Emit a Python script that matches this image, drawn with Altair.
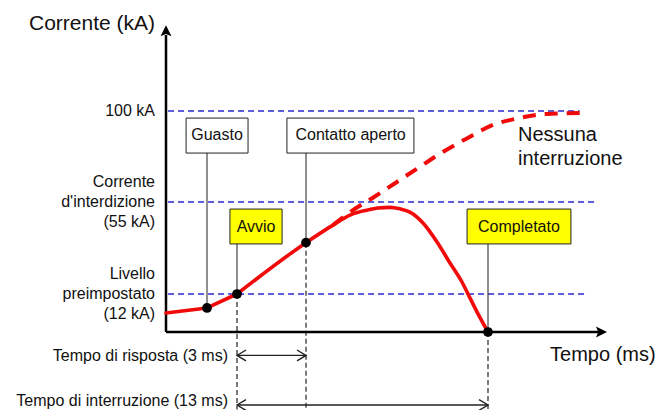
import altair as alt
import pandas as pd

# ---------------- values ----------------
# schematic time axis (ms) and current axis (kA)
event_names = ["Guasto", "Avvio", "Contatto aperto", "Completato"]
event_t = [2, 4, 7, 17]
event_i = [7.6, 12, 36, 0]

levels = [12, 55, 100]
level_start_t = [0.1, 0.1, 0.1]
level_end_t = [22.4, 22.9, 22.0]
level_labels = ["Livello\npreimpostato\n(12 kA)", "Corrente\nd'interdizione\n(55 kA)", "100 kA"]

# interrupted current (solid): straight rise until the trip starts, then curved
solid_t = [0, 2, 4, 7, 8.48, 9.42, 10.35, 10.96, 11.62, 12.16, 12.71, 13.43, 14.20, 14.91, 15.57, 15.90, 16.40, 17]
solid_i = [6.0, 7.6, 12, 36, 44.2, 48.9, 51.2, 52.2, 52.5, 51.8, 50.3, 45.2, 36.3, 26.5, 17.6, 12, 6.3, 0]
trip_start_t = 4

# uninterrupted current (dashed)
dashed_t = [8.48, 9.42, 10.74, 12.16, 13.15, 14.42, 15.79, 17.27, 18.69, 20.17, 22.19]
dashed_i = [44.2, 50.3, 57.5, 65.9, 71.8, 79.2, 86.2, 93.1, 96.5, 98.5, 99.0]

box_labels = ["Guasto", "Contatto aperto", "Avvio", "Completato"]
box_kind = ["evento", "evento", "azione", "azione"]
box_anchor_t = [2, 7, 4, 17]
box_anchor_i = [7.6, 36, 12, 0]
box_t0 = [0.98, 6.17, 3.53, 15.85]
box_t1 = [4.48, 12.93, 5.96, 21.53]
box_i0 = [79.2, 79.2, 35.4, 35.4]
box_i1 = [96.5, 96.5, 51.7, 51.7]
box_tc = [2.67, 9.45, 4.83, 18.69]
box_ic = [87.9, 87.9, 43.5, 43.5]

drop_t = [4, 7, 17]
drop_i = [12, 36, 0]
drop_bottom = -24.5

span_labels = ["Tempo di risposta (3 ms)", "Tempo di interruzione (13 ms)"]
span_t0 = [4, 4]
span_t1 = [7, 17]
span_i = [-7.4, -23.1]
span_text_i = [-7.6, -21.8]

no_break_label = "Nessuna\ninterruzione"
no_break_t = 18.64
no_break_i = 82.2

y_title = "Corrente (kA)"
y_title_i = 135.5
x_title = "Tempo (ms)"
x_title_t = 20.39
x_title_i = -7.3

axis_y_top = 131
axis_y_tip = 135
axis_x_end = 23.2
axis_x_tip = 23.5

# piecewise schematic scales
x_domain = [-8.1, 0, 2, 4, 7, 17, 23.5, 26]
x_range = [-8, 158, 199, 229, 298, 480, 599, 656]
y_domain = [-25, 0, 12, 55, 100, 135.5]
y_range = [403, 324, 286, 194, 103, 16]

# ---------------- chart ----------------
xs = alt.Scale(domain=x_domain, range=x_range, nice=False, zero=False)
ys = alt.Scale(domain=y_domain, range=y_range, nice=False, zero=False)


def X(f):
    return alt.X(f, type="quantitative", scale=xs, axis=None)


def Y(f):
    return alt.Y(f, type="quantitative", scale=ys, axis=None)


FONT = "Liberation Sans"
RED = "#f00a0a"
BLUE = "#2a2ad2"
INK = "#111111"

df_levels = pd.DataFrame({"t0": level_start_t, "t1": level_end_t, "i": levels, "label": level_labels})
df_levels["n"] = [s.count("\n") + 1 for s in level_labels]
df_levels["t"] = 0
df_solid = pd.DataFrame({"t": solid_t, "i": solid_i})
df_dashed = pd.DataFrame({"t": dashed_t, "i": dashed_i})
df_events = pd.DataFrame({"t": event_t, "i": event_i, "name": event_names})
df_boxes = pd.DataFrame({
    "label": box_labels, "kind": box_kind,
    "at": box_anchor_t, "ai": box_anchor_i,
    "t0": box_t0, "t1": box_t1, "i0": box_i0, "i1": box_i1,
    "tc": box_tc, "ic": box_ic,
})
df_drop = pd.DataFrame({"t": drop_t, "i0": drop_i, "i1": [drop_bottom] * len(drop_t)})
df_span = pd.DataFrame({"label": span_labels, "t0": span_t0, "t1": span_t1, "i": span_i, "ti": span_text_i})
df_yaxis = pd.DataFrame({"t": [0], "i0": [0], "i1": [axis_y_top], "tip": [axis_y_tip]})
df_xaxis = pd.DataFrame({"t0": [0], "t1": [axis_x_end], "i": [0], "tip": [axis_x_tip]})
df_ytitle = pd.DataFrame({"t": [0], "i": [y_title_i], "label": [y_title]})
df_xtitle = pd.DataFrame({"t": [x_title_t], "i": [x_title_i], "label": [x_title]})
df_nobreak = pd.DataFrame({"t": [no_break_t], "i": [no_break_i], "label": [no_break_label]})

blue_lines = alt.Chart(df_levels).mark_rule(color=BLUE, strokeWidth=1.3, strokeDash=[6, 4]).encode(
    x=X("t0"), x2="t1", y=Y("i"))

connectors = alt.Chart(df_boxes).mark_rule(color="#333333", strokeWidth=1.1).encode(
    x=X("at"), y=Y("i0"), y2="ai")

drops = alt.Chart(df_drop).mark_rule(color="#333333", strokeWidth=1.3, strokeDash=[5, 3]).encode(
    x=X("t"), y=Y("i0"), y2="i1")

span_lines = alt.Chart(df_span).mark_rule(color="#222222", strokeWidth=1.3).encode(
    x=X("t0"), x2="t1", y=Y("i"))
span_left = alt.Chart(df_span).mark_point(
    shape="M1,-0.6L0,0L1,0.6", filled=False, size=324, strokeWidth=1.4, color="#222222", opacity=1
).encode(x=X("t0"), y=Y("i"))
span_right = alt.Chart(df_span).mark_point(
    shape="M-1,-0.6L0,0L-1,0.6", filled=False, size=324, strokeWidth=1.4, color="#222222", opacity=1
).encode(x=X("t1"), y=Y("i"))
span_text = alt.Chart(df_span).mark_text(
    align="right", baseline="middle", dx=-9, font=FONT, fontSize=16, color=INK
).encode(x=X("t0"), y=Y("ti"), text="label")

yaxis = alt.Chart(df_yaxis).mark_rule(color="black", strokeWidth=2.5).encode(
    x=X("t"), y=Y("i0"), y2="i1")
yaxis_head = alt.Chart(df_yaxis).mark_point(
    shape="M0,0L0.5,1L0,0.8L-0.5,1Z", filled=True, size=484, color="black", opacity=1
).encode(x=X("t"), y=Y("tip"))
xaxis = alt.Chart(df_xaxis).mark_rule(color="black", strokeWidth=2.5).encode(
    x=X("t0"), x2="t1", y=Y("i"))
xaxis_head = alt.Chart(df_xaxis).mark_point(
    shape="M0,0L-1,-0.5L-0.8,0L-1,0.5Z", filled=True, size=484, color="black", opacity=1
).encode(x=X("tip"), y=Y("i"))

solid_base = alt.Chart(df_solid)
solid_rise = solid_base.transform_filter(f"datum.t <= {trip_start_t}").mark_line(
    color=RED, strokeWidth=3.6, strokeCap="round", strokeJoin="round"
).encode(x=X("t"), y=Y("i"))
solid_curve = solid_base.transform_filter(f"datum.t >= {trip_start_t}").mark_line(
    color=RED, strokeWidth=3.6, strokeCap="round", interpolate="monotone"
).encode(x=X("t"), y=Y("i"))
dashed = alt.Chart(df_dashed).mark_line(
    color=RED, strokeWidth=4, strokeDash=[13, 9], interpolate="monotone"
).encode(x=X("t"), y=Y("i"))

dots = alt.Chart(df_events).mark_circle(size=95, color="black", opacity=1).encode(x=X("t"), y=Y("i"))

boxes = alt.Chart(df_boxes).mark_rect(stroke="#222222", strokeWidth=1).encode(
    x=X("t0"), x2="t1", y=Y("i0"), y2="i1",
    color=alt.Color("kind:N", scale=alt.Scale(domain=["evento", "azione"], range=["#ffffff", "#ffff00"]),
                    legend=None),
)
box_text = alt.Chart(df_boxes).mark_text(
    align="center", baseline="middle", font=FONT, fontSize=16, color=INK
).encode(x=X("tc"), y=Y("ic"), text="label")

level_base = alt.Chart(df_levels)
level_text_multi = level_base.transform_filter("datum.n > 1").mark_text(
    align="right", baseline="middle", dx=-11, dy=-20, font=FONT, fontSize=16, color=INK,
    lineBreak="\n", lineHeight=20
).encode(x=X("t"), y=Y("i"), text="label")
level_text_single = level_base.transform_filter("datum.n == 1").mark_text(
    align="right", baseline="middle", dx=-11, font=FONT, fontSize=16, color=INK
).encode(x=X("t"), y=Y("i"), text="label")

ytitle = alt.Chart(df_ytitle).mark_text(
    align="right", baseline="middle", dx=-11, font=FONT, fontSize=21, color=INK
).encode(x=X("t"), y=Y("i"), text="label")
xtitle = alt.Chart(df_xtitle).mark_text(
    align="left", baseline="middle", font=FONT, fontSize=20, color=INK
).encode(x=X("t"), y=Y("i"), text="label")
nobreak = alt.Chart(df_nobreak).mark_text(
    align="left", baseline="middle", dy=-12, font=FONT, fontSize=20, color=INK, lineBreak="\n", lineHeight=24
).encode(x=X("t"), y=Y("i"), text="label")

chart = alt.layer(
    blue_lines, connectors, drops, span_lines, span_left, span_right, span_text,
    yaxis, yaxis_head, xaxis, xaxis_head,
    dashed, solid_rise, solid_curve, dots, boxes, box_text,
    level_text_multi, level_text_single, ytitle, xtitle, nobreak,
).properties(
    width=648, height=402, padding=0, autosize=alt.AutoSizeParams(type="none")
).configure_view(strokeWidth=0)

chart.save("out.html", embed_options={"renderer": "svg", "actions": False})
